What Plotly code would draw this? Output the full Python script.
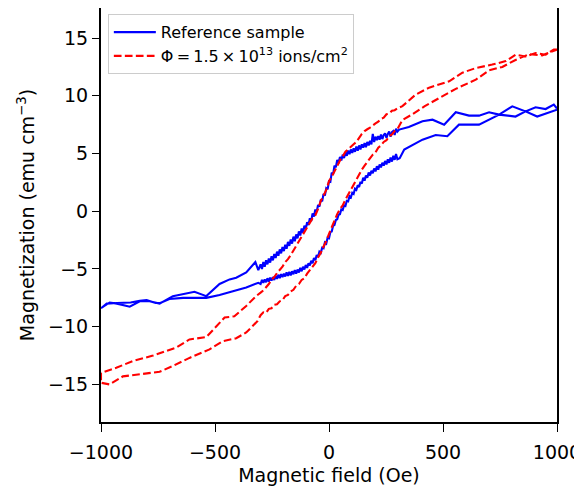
import plotly.graph_objects as go

# Reference sample: descending branch (+1000 -> -1000 Oe)
ref_field_down = [1000, 960, 913, 862, 818, 746, 702, 658, 614, 556, 505, 454, 410, 350, 308,
                  300, 294, 288, 282, 276, 270, 264, 258, 252, 246, 240, 234, 228, 222, 216, 210,
                  204, 198, 192, 186, 180, 174, 168, 162, 156, 150, 144, 138, 132, 126, 120, 114,
                  108, 102, 96, 90, 84, 78, 72, 66, 60, 54, 48, 42, 36, 30, 24, 18, 12, 6, 0,
                  -6, -12, -18, -24, -30, -36, -42, -48, -54, -60, -66, -72, -78, -84, -90, -96,
                  -102, -108, -114, -120, -126, -132, -138, -144, -150, -156, -162, -168, -174,
                  -180, -186, -192, -198, -204, -210, -216, -222, -228, -234, -240, -246, -252,
                  -258, -264, -270, -276, -282, -288, -294, -300, -310,
                  -323, -363, -407, -436, -480, -538, -590, -641, -685, -743, -787, -830, -874,
                  -930, -962, -1000]
ref_mag_down = [8.8, 8.5, 8.2, 8.65, 8.2, 8.37, 8.57, 8.28, 8.28, 8.57, 7.5, 7.93, 7.8, 7.3, 7.07,
                6.9, 7.15, 6.6, 6.95, 6.85, 6.45, 6.9, 6.7, 6.35, 6.75, 6.6, 6.25, 6.65, 6.2, 6.5,
                6.15, 6.45, 6.0, 6.7, 5.8, 6.1, 5.7, 6.0, 5.55, 5.9, 5.5, 5.8, 5.35, 5.7, 5.25,
                5.6, 5.15, 5.45, 5.05, 5.35, 4.95, 5.25, 4.8, 5.1, 4.6, 4.9, 4.4, 4.7, 4.15, 4.45,
                3.8, 3.95, 3.2, 3.35, 2.55, 2.6,
                1.9, 2.0, 1.35, 1.5, 0.85, 1.0, 0.4, 0.55, -0.05, 0.15, -0.45, -0.2, -0.85, -0.6,
                -1.2, -0.95, -1.55, -1.25, -1.85, -1.5, -2.1, -1.75, -2.35, -2.0, -2.6, -2.2,
                -2.8, -2.45, -3.0, -2.65, -3.25, -2.9, -3.45, -3.1, -3.65, -3.3, -3.85, -3.5,
                -4.05, -3.7, -4.25, -3.9, -4.45, -4.1, -4.6, -4.25, -4.8, -4.4, -5.0, -4.6, -5.1,
                -4.4, -5.3, -5.75, -5.9, -6.3, -7.35, -6.97, -7.2, -7.35, -8.0, -7.8, -7.8, -8.27,
                -8.0, -7.9, -8.4]

# Reference sample: ascending branch (-1000 -> +1000 Oe)
ref_field_up = [-1000, -975, -930, -870, -830, -800, -760, -740, -700, -640, -580, -538, -480,
                -422, -363, -310,
                -300, -294, -288, -282, -276, -270, -264, -258, -252, -246, -240, -234, -228,
                -222, -216, -210, -204, -198, -192, -186, -180, -174, -168, -162, -156, -150,
                -144, -138, -132, -126, -120, -114, -108, -102, -96, -90, -84, -78, -72, -66,
                -60, -54, -48, -42, -36, -30, -24, -18, -12, -6, 0, 6, 12, 18, 24, 30, 36, 42,
                48, 54, 60, 66, 72, 78, 84, 90, 96, 102, 108, 114, 120, 126, 132, 138, 144, 150,
                156, 162, 168, 174, 180, 186, 192, 198, 204, 210, 216, 222, 228, 234, 240, 246,
                252, 258, 264, 270, 276, 282, 288, 294, 300, 310,
                330, 410, 468, 519, 570, 658, 746, 804, 862, 906, 950, 986, 1000]
ref_mag_up = [-8.4, -8.0, -7.95, -7.9, -7.75, -7.7, -7.95, -7.95, -7.6, -7.5, -7.5, -7.5, -7.25,
              -6.95, -6.6, -6.2,
              -6.3, -5.95, -6.2, -5.9, -6.15, -5.8, -6.1, -5.75, -6.0, -5.7, -5.95, -5.6, -5.85,
              -5.5, -5.8, -5.45, -5.7, -5.4, -5.65, -5.3, -5.6, -5.25, -5.55, -5.2, -5.45, -5.1,
              -5.4, -5.05, -5.3, -4.9, -5.2, -4.8, -5.05, -4.65, -4.9, -4.5, -4.7, -4.3, -4.5,
              -4.05, -4.25, -3.8, -3.95, -3.5, -3.6, -3.15, -3.2, -2.7, -2.8, -2.3, -2.35, -1.8,
              -1.75, -1.25, -1.2, -0.75, -0.7, -0.3, -0.25, 0.15, 0.1, 0.5, 0.45, 0.9, 0.85, 1.3,
              1.2, 1.6, 1.5, 1.95, 1.85, 2.25, 2.1, 2.55, 2.4, 2.9, 2.65, 3.1, 2.9, 3.35, 3.1, 3.5,
              3.3, 3.7, 3.45, 3.9, 3.6, 4.05, 3.8, 4.2, 3.95, 4.35, 4.05, 4.5, 4.2, 4.65, 4.3,
              4.8, 4.45, 4.95, 4.5, 4.6,
              5.34, 6.2, 6.6, 6.5, 7.5, 7.5, 8.37, 9.08, 8.65, 9.0, 8.85, 9.23, 8.9]

# Irradiated sample: descending branch
irr_field_down = [1000, 986, 950, 906, 862, 818, 775, 716, 644, 585, 527, 439, 380, 322,
                  300, 288, 276, 264, 252, 240, 228, 216, 204, 192, 180, 168, 156, 144, 132, 120,
                  108, 96, 84, 72, 60, 48, 36, 24, 12, 0, -12, -24, -36, -48, -60, -72, -84, -96,
                  -108, -120, -132, -144, -156, -168, -180, -192, -204, -216, -228, -240, -252,
                  -264, -276, -288, -300,
                  -320, -363, -415, -458, -502, -538, -612, -670, -772, -860, -933, -1000]
irr_mag_down = [14.0, 14.0, 13.55, 13.7, 13.4, 13.55, 13.0, 12.7, 12.4, 12.0, 11.25, 10.7, 10.1, 9.1,
                8.9, 8.75, 8.7, 8.45, 8.4, 8.1, 8.0, 7.75, 7.6, 7.4, 7.25, 7.1, 6.95, 6.7, 6.35, 6.0,
                5.8, 5.6, 5.35, 5.15, 4.75, 4.4, 3.9, 3.4, 3.0, 2.6, 1.85, 1.35, 0.9, 0.2, -0.35,
                -0.6, -1.0, -1.45, -1.8, -2.25, -2.7, -3.05, -3.45, -3.8, -4.15, -4.4, -4.8, -5.05,
                -5.35, -5.7, -5.95, -6.3, -6.6, -6.85, -7.05,
                -7.35, -8.2, -9.1, -9.2, -10.1, -10.9, -11.1, -11.8, -12.5, -12.97, -13.55, -14.0]

# Irradiated sample: ascending branch
irr_field_up = [-1000, -962, -904, -830, -743, -685, -612, -524, -466, -407, -363, -313,
                -300, -288, -276, -264, -252, -240, -228, -216, -204, -192, -180, -168, -156,
                -144, -132, -120, -108, -96, -84, -72, -60, -48, -36, -24, -12, 0, 12, 24, 36,
                48, 60, 72, 84, 96, 108, 120, 132, 144, 156, 168, 180, 192, 204, 216, 228, 240,
                252, 264, 276, 288, 300,
                322, 366, 420, 483, 556, 644, 702, 760, 818, 877, 935, 1000]
irr_mag_up = [-14.85, -15.0, -14.3, -14.1, -13.9, -13.4, -12.7, -11.96, -11.25, -11.0, -10.5, -9.5,
              -9.0, -8.75, -8.8, -8.45, -8.4, -8.1, -8.05, -7.8, -7.7, -7.35, -7.25, -6.95, -6.8,
              -6.45, -6.3, -5.95, -5.8, -5.4, -5.1, -4.75, -4.5, -4.0, -3.6, -3.05, -2.6, -1.95,
              -1.4, -0.7, -0.25, 0.2, 0.5, 1.0, 1.45, 1.85, 2.35, 2.8, 3.15, 3.6, 3.95, 4.3, 4.55,
              4.9, 5.1, 5.5, 5.7, 6.0, 6.15, 6.5, 6.65, 6.95, 7.1,
              7.9, 8.4, 9.1, 9.8, 10.6, 11.4, 12.2, 12.5, 13.1, 13.6, 13.5, 14.0]

x_ticks = [-1000, -500, 0, 500, 1000]
y_ticks = [-15, -10, -5, 0, 5, 10, 15]

FONT = "DejaVu Sans, Verdana, sans-serif"

fig = go.Figure()

fig.add_trace(go.Scatter(
    x=ref_field_down + ref_field_up,
    y=ref_mag_down + ref_mag_up,
    mode="lines",
    name="Reference sample",
    line=dict(color="#0000ff", width=2.1),
))

fig.add_trace(go.Scatter(
    x=irr_field_down + irr_field_up,
    y=irr_mag_down + irr_mag_up,
    mode="lines",
    name="\u03a6\u2009=\u20091.5\u2009\u00d7\u200910<sup>13</sup> ions/cm<sup>2</sup>",
    line=dict(color="#ff0000", width=2.1, dash="7.7px,3.3px"),
))

axis_common = dict(
    showline=True,
    linecolor="black",
    linewidth=2,
    mirror=True,
    ticks="outside",
    tickcolor="black",
    tickwidth=1.1,
    showgrid=False,
    zeroline=False,
    automargin=False,
    tickfont=dict(family=FONT, size=19, color="black"),
)

# the page puts the plot 8px in from the top-left, so the figure is 8px smaller
fig.update_layout(
    width=574,
    height=481,
    margin=dict(l=93, r=25, t=0, b=67),
    plot_bgcolor="white",
    paper_bgcolor="white",
    font=dict(family=FONT, color="black"),
    xaxis=dict(
        axis_common,
        range=[-1000, 1000],
        tickvals=x_ticks,
        ticklen=8,
        ticklabelstandoff=4,
        title=dict(text="Magnetic field (Oe)", font=dict(family=FONT, size=19), standoff=7),
    ),
    yaxis=dict(
        axis_common,
        range=[-18.25, 17.6],
        tickvals=y_ticks,
        ticklen=7,
        title=dict(text="Magnetization (emu cm<sup>\u22123</sup>)", font=dict(family=FONT, size=19),
                   standoff=8),
    ),
    legend=dict(
        x=0.015, y=0.985, xanchor="left", yanchor="top",
        bgcolor="rgba(255,255,255,0.8)",
        bordercolor="#cccccc", borderwidth=1,
        itemwidth=42,
        font=dict(family=FONT, size=16, color="black"),
    ),
    showlegend=True,
)

fig.write_html("out.html")
